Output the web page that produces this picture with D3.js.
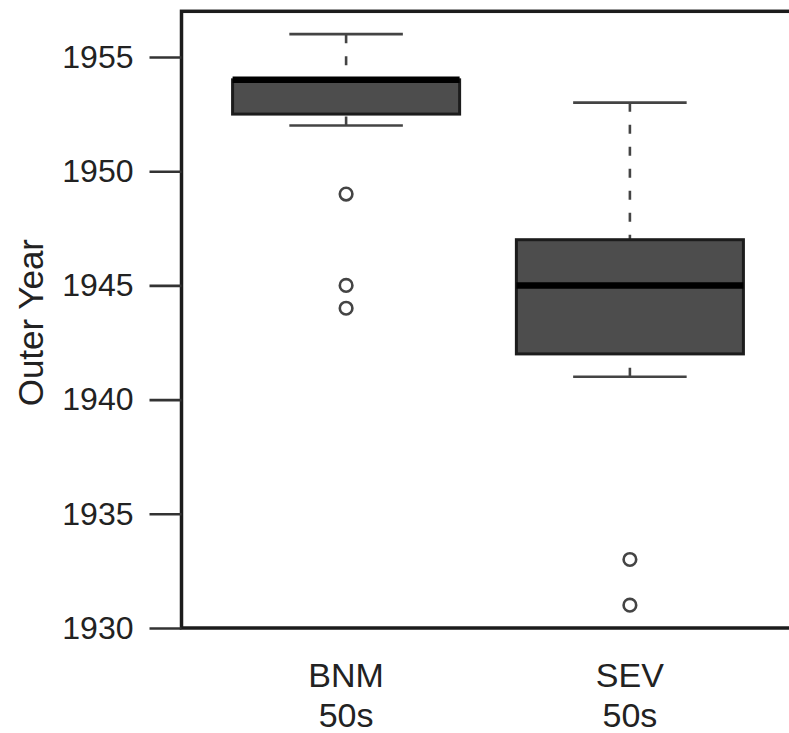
<!DOCTYPE html>
<html>
<head>
<meta charset="utf-8">
<script src="https://cdn.jsdelivr.net/npm/d3@7"></script>
<style>
  html, body { margin: 0; padding: 0; background: #fff; }
  svg { display: block; font-family: "Liberation Sans", Arial, Helvetica, sans-serif; }
</style>
</head>
<body>
<svg id="chart" width="789" height="733"></svg>
<script>
// Groups and their five-number summaries (outer ring year)
const groups   = ["BNM", "SEV"];
const subLabel = ["50s", "50s"];
const whiskerLow  = [1952, 1941];
const q1          = [1952.5, 1942];
const median      = [1954, 1945];
const q3          = [1954, 1947];
const whiskerHigh = [1956, 1953];
const outliers    = [[1949, 1945, 1944], [1933, 1931]];
const yTicks      = [1930, 1935, 1940, 1945, 1950, 1955];

const svg = d3.select("#chart");

// Plot region in the style of base R graphics (4% padding on both axes)
const x = d3.scaleLinear().domain([0.42, 2.58]).range([181.5, 794.5]);
const y = d3.scaleLinear().domain([1930, 1957]).range([628, 11.3]);

const boxW = 0.8, capW = 0.4;
const ink = "#1c1c1c", grey = "#444";

const data = groups.map((g, i) => ({
  g, pos: i + 1, lo: whiskerLow[i], q1: q1[i], med: median[i],
  q3: q3[i], hi: whiskerHigh[i], out: outliers[i], sub: subLabel[i]
}));

const gBox = svg.append("g");

data.forEach(d => {
  const cx = x(d.pos);
  const half = (x(d.pos + boxW / 2) - x(d.pos - boxW / 2)) / 2;
  const capHalf = (x(d.pos + capW / 2) - x(d.pos - capW / 2)) / 2;
  const g = gBox.append("g");

  // dashed whiskers
  g.append("line").attr("x1", cx).attr("x2", cx)
    .attr("y1", y(d.hi)).attr("y2", y(d.q3))
    .attr("stroke", grey).attr("stroke-width", 2.6).attr("stroke-dasharray", "9,13");
  g.append("line").attr("x1", cx).attr("x2", cx)
    .attr("y1", y(d.lo)).attr("y2", y(d.q1))
    .attr("stroke", grey).attr("stroke-width", 2.6).attr("stroke-dasharray", "9,13");

  // whisker caps
  [d.hi, d.lo].forEach(v => {
    g.append("line").attr("x1", cx - capHalf).attr("x2", cx + capHalf)
      .attr("y1", y(v)).attr("y2", y(v))
      .attr("stroke", grey).attr("stroke-width", 2.6);
  });

  // box
  g.append("rect")
    .attr("x", cx - half).attr("width", 2 * half)
    .attr("y", y(d.q3)).attr("height", y(d.q1) - y(d.q3))
    .attr("fill", "#4d4d4d").attr("stroke", ink).attr("stroke-width", 3);

  // median
  g.append("line").attr("x1", cx - half).attr("x2", cx + half)
    .attr("y1", y(d.med)).attr("y2", y(d.med))
    .attr("stroke", "#000").attr("stroke-width", 6.5);

  // outliers
  g.selectAll("circle").data(d.out).join("circle")
    .attr("cx", cx).attr("cy", v => y(v)).attr("r", 6.3)
    .attr("fill", "none").attr("stroke", grey).attr("stroke-width", 2.6);
});

// frame around the plot region
svg.append("rect")
  .attr("x", x.range()[0]).attr("y", y.range()[1])
  .attr("width", x.range()[1] - x.range()[0])
  .attr("height", y.range()[0] - y.range()[1])
  .attr("fill", "none").attr("stroke", ink).attr("stroke-width", 3.5);

// y axis
const yAxis = d3.axisLeft(y).tickValues(yTicks).tickSize(32).tickPadding(16)
  .tickFormat(d3.format("d"));
const gy = svg.append("g").attr("transform", `translate(${x.range()[0]},0)`).call(yAxis);
gy.select(".domain").remove();
gy.selectAll(".tick line").attr("stroke", "#333").attr("stroke-width", 2.6);
gy.selectAll(".tick text").attr("fill", "#222").attr("font-size", 32)
  .attr("font-family", "'Liberation Sans', Arial, sans-serif");

// x category labels
const gx = svg.append("g");
data.forEach(d => {
  gx.append("text").attr("x", x(d.pos)).attr("y", 687)
    .attr("text-anchor", "middle").attr("font-size", 34).attr("fill", "#222").text(d.g);
  gx.append("text").attr("x", x(d.pos)).attr("y", 727)
    .attr("text-anchor", "middle").attr("font-size", 34).attr("fill", "#222").text(d.sub);
});

// y title
svg.append("text")
  .attr("transform", `translate(43,${(y.range()[0] + y.range()[1]) / 2 + 3}) rotate(-90)`)
  .attr("text-anchor", "middle").attr("font-size", 35).attr("fill", "#222")
  .text("Outer Year");
</script>
</body>
</html>
